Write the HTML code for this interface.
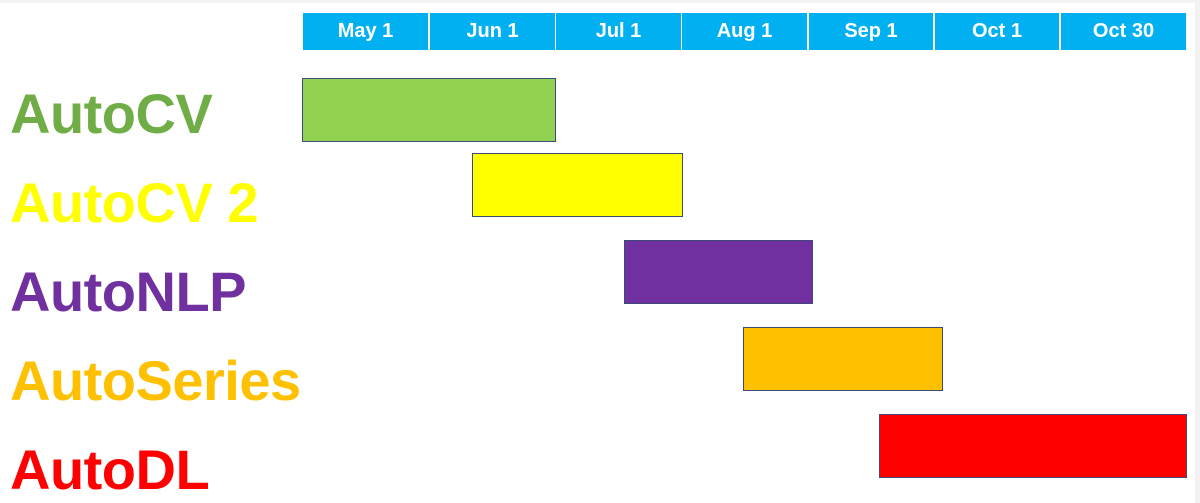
<!DOCTYPE html>
<html><head><meta charset="utf-8"><style>
html,body{margin:0;padding:0;}
body{width:1200px;height:503px;position:relative;background:#fff;overflow:hidden;font-family:"Liberation Sans",sans-serif;}
.hd{position:absolute;top:13px;height:37px;background:#00b0f0;color:#fff;font-weight:bold;font-size:20px;line-height:37px;text-align:center;box-sizing:border-box;}
.bar{position:absolute;box-sizing:border-box;border:1.5px solid #3a4a7a;height:64px;}
.lb{position:absolute;left:10px;font-weight:bold;font-size:56px;line-height:56px;white-space:nowrap;letter-spacing:-0.5px;}
</style></head><body>
<div style="position:absolute;left:0;top:0;width:1200px;height:3px;background:#f2f2f2"></div>
<div style="position:absolute;left:1195px;top:0;width:5px;height:503px;background:#f2f2f2"></div>
<div class="hd" style="left:303px;width:125px">May 1</div>
<div class="hd" style="left:430px;width:125px">Jun 1</div>
<div class="hd" style="left:556px;width:125px">Jul 1</div>
<div class="hd" style="left:682px;width:125px">Aug 1</div>
<div class="hd" style="left:809px;width:124px">Sep 1</div>
<div class="hd" style="left:935px;width:124px">Oct 1</div>
<div class="hd" style="left:1061px;width:125px">Oct 30</div>

<div class="bar" style="left:302px;top:78px;width:254px;background:#92d050"></div>
<div class="bar" style="left:472px;top:153px;width:211px;background:#ffff00"></div>
<div class="bar" style="left:624px;top:240px;width:189px;background:#7030a0"></div>
<div class="bar" style="left:743px;top:327px;width:200px;background:#ffc000"></div>
<div class="bar" style="left:879px;top:414px;width:308px;background:#ff0000"></div>

<div class="lb" style="top:86px;color:#70ad47">AutoCV</div>
<div class="lb" style="top:175px;color:#ffff00">AutoCV 2</div>
<div class="lb" style="top:264px;color:#7030a0">AutoNLP</div>
<div class="lb" style="top:353px;color:#ffc000">AutoSeries</div>
<div class="lb" style="top:442px;color:#ff0000">AutoDL</div>
</body></html>
